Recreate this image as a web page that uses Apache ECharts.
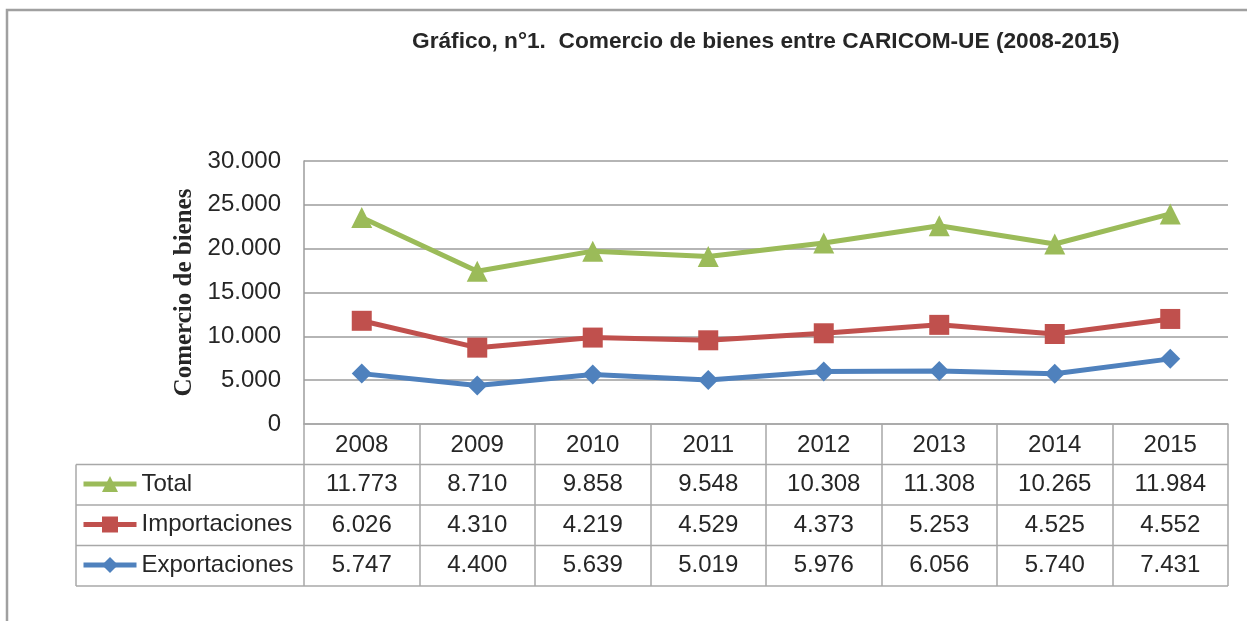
<!DOCTYPE html>
<html>
<head>
  <meta charset="utf-8">
  <title>Comercio de bienes CARICOM-UE</title>
  <script src="https://cdn.jsdelivr.net/npm/echarts@6/dist/echarts.min.js"></script>
  <style>
    html, body { margin: 0; padding: 0; background: #fff; }
    #chart { width: 1247px; height: 621px; }
  </style>
</head>
<body>
<div id="chart"></div>
<script type="text/javascript">
// datos del grafico (valores del cuadro)
var years = ['2008', '2009', '2010', '2011', '2012', '2013', '2014', '2015'];
var total = [11773, 8710, 9858, 9548, 10308, 11308, 10265, 11984];
var importaciones = [6026, 4310, 4219, 4529, 4373, 5253, 4525, 4552];
var exportaciones = [5747, 4400, 5639, 5019, 5976, 6056, 5740, 7431];
var yTicks = [0, 5000, 10000, 15000, 20000, 25000, 30000];

var cGreen = '#9BBB59', cRed = '#C0504D', cBlue = '#4F81BD';
var gridColor = '#9c9c9c';
var tableColor = '#a8a8a8';
var txtColor = '#262626';
var font = 'Liberation Sans';
var rowH = 40.5;
var tableLeft = 76;

function fmt(v) {
  if (v === 0) return '0';
  return (v / 1000).toFixed(3);
}

var chart = echarts.init(document.getElementById('chart'));

// Excel "linea apilada": las series se suman unas sobre otras
var option = {
  animation: false,
  backgroundColor: '#fff',
  title: {
    text: 'Gráfico, n°1.  Comercio de bienes entre CARICOM-UE (2008-2015)',
    left: 412,
    top: 30,
    padding: 0,
    textStyle: { fontFamily: font, fontWeight: 'bold', fontSize: 22.7, color: txtColor }
  },
  grid: { left: 304, right: 19, top: 161, bottom: 197, outerBoundsMode: 'none' },
  legend: {
    orient: 'vertical',
    left: 81,
    top: 472,
    padding: 0,
    itemGap: 16.5,
    itemWidth: 53,
    itemHeight: 20,
    data: ['Total', 'Importaciones', 'Exportaciones'],
    lineStyle: { width: 5 },
    textStyle: { fontFamily: font, fontSize: 24, lineHeight: 24, color: txtColor }
  },
  xAxis: {
    type: 'category',
    data: years,
    boundaryGap: true,
    axisLine: { lineStyle: { color: tableColor, width: 1.5 } },
    axisTick: { show: true, inside: false, length: rowH * 4, lineStyle: { color: tableColor, width: 1.5 } },
    axisLabel: { fontFamily: font, fontSize: 24, color: txtColor, margin: 9 }
  },
  yAxis: {
    type: 'value',
    min: yTicks[0],
    max: yTicks[yTicks.length - 1],
    interval: 5000,
    name: 'Comercio de bienes',
    nameLocation: 'middle',
    nameGap: 105,
    nameRotate: 90,
    nameTextStyle: { fontFamily: 'Liberation Serif', fontWeight: 'bold', fontSize: 25, color: txtColor },
    axisLine: { show: true, lineStyle: { color: gridColor, width: 1.5 } },
    axisTick: { show: false },
    axisLabel: { fontFamily: font, fontSize: 24, color: txtColor, margin: 23, formatter: fmt },
    splitLine: { lineStyle: { color: gridColor, width: 1.5 } }
  },
  series: [
    {
      name: 'Exportaciones', type: 'line', stack: 'total', data: exportaciones,
      symbol: 'diamond', symbolSize: 20,
      itemStyle: { color: cBlue }, lineStyle: { color: cBlue, width: 5 }
    },
    {
      name: 'Importaciones', type: 'line', stack: 'total', data: importaciones,
      symbol: 'rect', symbolSize: 20,
      itemStyle: { color: cRed }, lineStyle: { color: cRed, width: 5 }
    },
    {
      name: 'Total', type: 'line', stack: 'total', data: total,
      symbol: 'triangle', symbolSize: 21,
      itemStyle: { color: cGreen }, lineStyle: { color: cGreen, width: 5 }
    }
  ]
};
chart.setOption(option);

// cuadro de datos debajo del grafico
function buildTable() {
  var y0 = chart.convertToPixel({ yAxisIndex: 0 }, 0);
  var xs = years.map(function (y) { return chart.convertToPixel({ xAxisIndex: 0 }, y); });
  var band = xs[1] - xs[0];
  var right = xs[xs.length - 1] + band / 2;
  var rows = [total, importaciones, exportaciones];
  var els = [];

  // marco exterior
  els.push({
    type: 'rect', shape: { x: 7, y: 10, width: 1400, height: 800 },
    style: { fill: null, stroke: '#a0a0a0', lineWidth: 2.5 }, silent: true
  });

  for (var k = 1; k <= 4; k++) {
    els.push({
      type: 'line', shape: { x1: tableLeft, y1: y0 + rowH * k, x2: right, y2: y0 + rowH * k },
      style: { stroke: tableColor, lineWidth: 1.5 }, silent: true
    });
  }
  els.push({
    type: 'line', shape: { x1: tableLeft, y1: y0 + rowH, x2: tableLeft, y2: y0 + rowH * 4 },
    style: { stroke: tableColor, lineWidth: 1.5 }, silent: true
  });

  rows.forEach(function (vals, r) {
    var cy = y0 + rowH * (r + 1.5);
    vals.forEach(function (v, i) {
      els.push({
        type: 'text', x: xs[i], y: cy, silent: true,
        style: {
          text: fmt(v), fill: txtColor, font: '24px "Liberation Sans"',
          align: 'center', verticalAlign: 'middle'
        }
      });
    });
  });

  chart.setOption({ graphic: els });
}
buildTable();
</script>
</body>
</html>
